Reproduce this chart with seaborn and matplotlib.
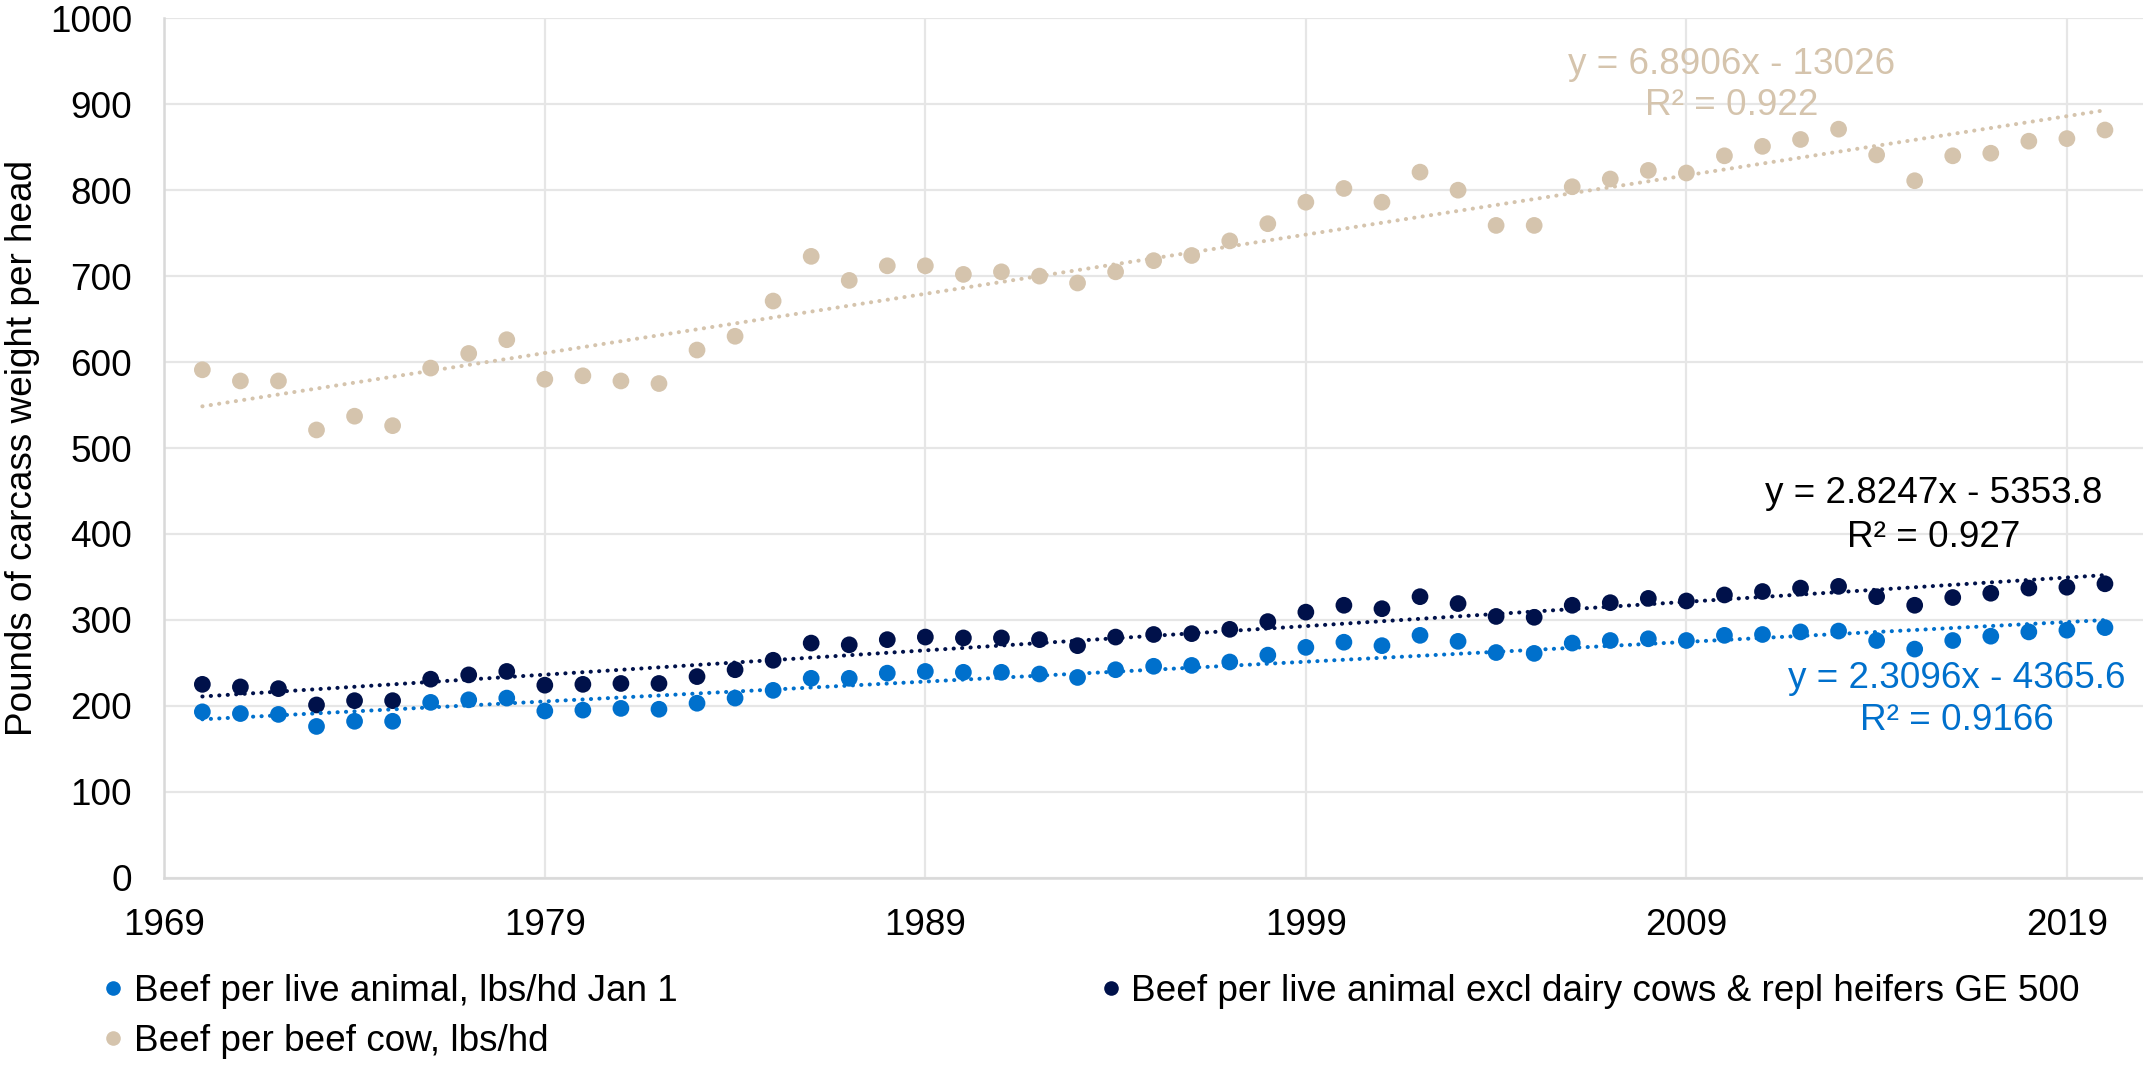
import numpy as np
import pandas as pd
import matplotlib
matplotlib.use("Agg")
import matplotlib.pyplot as plt
from matplotlib.lines import Line2D
import seaborn as sns

# ---- data -----------------------------------------------------------------
years = list(range(1970, 2021))

per_live_animal = [193, 191, 190, 176, 182, 182, 204, 207, 209, 194,
                   195, 197, 196, 203, 209, 218, 232, 232, 238, 240,
                   239, 239, 237, 233, 242, 246, 247, 251, 259, 268,
                   274, 270, 282, 275, 262, 261, 273, 276, 278, 276,
                   282, 283, 286, 287, 276, 266, 276, 281, 286, 288, 291]

excl_dairy = [225, 222, 220, 201, 206, 206, 231, 236, 240, 224,
              225, 226, 226, 234, 242, 253, 273, 271, 277, 280,
              279, 279, 277, 270, 280, 283, 284, 289, 298, 309,
              317, 313, 327, 319, 304, 303, 317, 320, 325, 322,
              329, 333, 337, 339, 327, 317, 326, 331, 337, 338, 342]

per_beef_cow = [591, 578, 578, 521, 537, 526, 593, 610, 626, 580,
                584, 578, 575, 614, 630, 671, 723, 695, 712, 712,
                702, 705, 700, 692, 705, 718, 724, 741, 761, 786,
                802, 786, 821, 800, 759, 759, 804, 813, 823, 820,
                840, 851, 859, 871, 841, 811, 840, 843, 857, 860, 870]

series_names = ["Beef per live animal, lbs/hd Jan 1",
                "Beef per live animal excl dairy cows & repl heifers GE 500",
                "Beef per beef cow, lbs/hd"]
series_colors = ["#0070CC", "#00114A", "#D5C4AD"]
eq_colors = ["#0070CC", "#000000", "#D5C4AD"]

# linear trend coefficients (slope, intercept) and R² for each series
trend_slope = [2.3096, 2.8247, 6.8906]
trend_intercept = [-4365.6, -5353.8, -13026]
trend_r2 = ["0.9166", "0.927", "0.922"]
eq_text = ["y = 2.3096x - 4365.6", "y = 2.8247x - 5353.8", "y = 6.8906x - 13026"]

x_ticks = [1969, 1979, 1989, 1999, 2009, 2019]
y_ticks = list(range(0, 1001, 100))

# ---- long-form table ----------------------------------------------------------
df = pd.concat([
    pd.DataFrame({"year": years, "value": vals, "series": name})
    for name, vals in zip(series_names, [per_live_animal, excl_dairy, per_beef_cow])
], ignore_index=True)

# ---- style --------------------------------------------------------------------
sns.set_theme(style="whitegrid")
plt.rcParams["font.family"] = ["Liberation Sans", "DejaVu Sans"]
plt.rcParams["text.color"] = "black"
FS = 26.6

W, H = 2143, 1067
fig = plt.figure(figsize=(W / 100, H / 100), dpi=100)
x0, x1, y_top, y_bot = 164.3, 2143, 18.3, 877.7
ax = fig.add_axes([x0 / W, (H - y_bot) / H, (x1 - x0) / W, (y_bot - y_top) / H])
ax.set_facecolor("white")

sns.scatterplot(data=df, x="year", y="value", hue="series",
                hue_order=series_names, palette=series_colors,
                s=145, linewidth=0, legend=False, ax=ax, zorder=3)

# dotted linear trendlines
yr = np.array([years[0], years[-1]], dtype=float)
for m, b, c in zip(trend_slope, trend_intercept, series_colors):
    ax.plot(yr, m * yr + b, color=c, lw=2.9, linestyle=(0, (0.05, 2.05)),
            dash_capstyle="round", zorder=4)

# trend equations
eq_pos = [(2016.1, 220.4, 171.9), (2015.5, 435.7, 385.2), (2010.2, 935.3, 887.6)]
for (xc, y1, y2), eq, r2, c in zip(eq_pos, eq_text, trend_r2, eq_colors):
    ax.text(xc, y1, eq, color=c, fontsize=FS, ha="center", va="baseline", zorder=5)
    ax.text(xc, y2, "R² = " + r2, color=c, fontsize=FS, ha="center", va="baseline", zorder=5)

# axes
ax.set_xlim(1969, 2021)
ax.set_ylim(0, 1000)
ax.set_xticks(x_ticks)
ax.set_yticks(y_ticks)
ax.set_xlabel("")
ax.set_ylabel("Pounds of carcass weight per head", fontsize=FS, color="black", labelpad=7)
ax.tick_params(axis="both", length=0, labelsize=FS, labelcolor="black")
ax.tick_params(axis="x", pad=22)
ax.tick_params(axis="y", pad=23)
ax.grid(True, color="#E6E6E6", linewidth=1.6)
for side in ["top", "right"]:
    ax.spines[side].set_visible(False)
for side in ["left", "bottom"]:
    ax.spines[side].set_color("#D9D9D9")
    ax.spines[side].set_linewidth(1.8)

# legend: row 1 = first two series, row 2 = beef cow
handles = [Line2D([], [], linestyle="none", marker="o", markersize=10.5,
                  markerfacecolor=c, markeredgewidth=0) for c in series_colors]
order = [0, 2, 1]
leg = fig.legend([handles[i] for i in order], [series_names[i] for i in order],
                 loc="center left", bbox_to_anchor=(104.25 / W, (H - 1016.5) / H),
                 ncol=2, frameon=False, fontsize=FS, handlelength=0.5,
                 handletextpad=0.3, columnspacing=11.48, labelspacing=0.42,
                 borderpad=0, borderaxespad=0)
for t in leg.get_texts():
    t.set_color("black")

fig.savefig("out.png", dpi=100, facecolor="white")
